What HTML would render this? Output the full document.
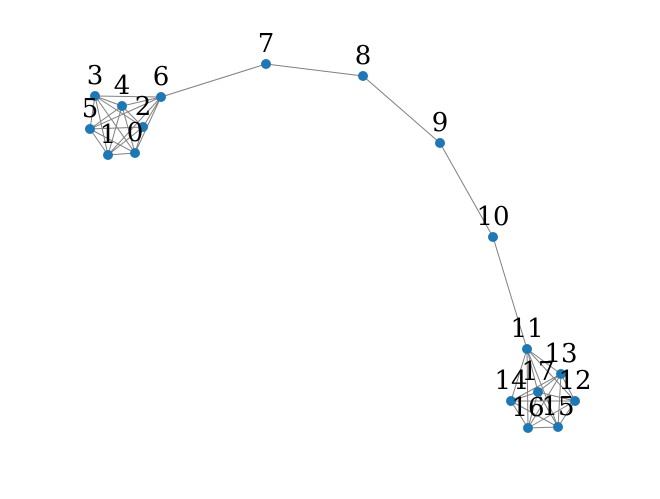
<!DOCTYPE html>
<html><head><meta charset="utf-8"><style>body{margin:0;background:#fff}svg{display:block}</style></head>
<body>
<svg id="g" width="660" height="499" viewBox="0 0 660 499" xmlns="http://www.w3.org/2000/svg">
<g id="edges"></g>
<g id="nodes"></g>
<g id="labels"></g>
</svg>
<script>
const nodeIds = [0,1,2,3,4,5,6,7,8,9,10,11,12,13,14,15,16,17];
const nodeX = [135,108,143,95,122,90,161,266,363,440,493,527,575,561,511,558,528,538];
const nodeY = [153,155,127,96,106,129,97,64,76,143,237,349,401,374,401,427,428,392];
const cliqueA = [0,1,2,3,4,5,6];
const cliqueB = [11,12,13,14,15,16,17];
const chainEdges = [[6,7],[7,8],[8,9],[9,10],[10,11]];
const NS='http://www.w3.org/2000/svg';
const edges=[];
[cliqueA,cliqueB].forEach(c=>{for(let i=0;i<c.length;i++)for(let j=i+1;j<c.length;j++)edges.push([c[i],c[j]]);});
chainEdges.forEach(e=>edges.push(e));
const eg=document.getElementById('edges'),ng=document.getElementById('nodes'),lg=document.getElementById('labels');
edges.forEach(([a,b])=>{
  const l=document.createElementNS(NS,'line');
  l.setAttribute('x1',nodeX[a]);l.setAttribute('y1',nodeY[a]);l.setAttribute('x2',nodeX[b]);l.setAttribute('y2',nodeY[b]);
  l.setAttribute('stroke','#808080');l.setAttribute('stroke-width','1');
  
  
  eg.appendChild(l);
});
nodeIds.forEach((id,i)=>{
  const c=document.createElementNS(NS,'circle');
  c.setAttribute('cx',nodeX[i]);c.setAttribute('cy',nodeY[i]);c.setAttribute('r','5');c.setAttribute('fill','#1f77b4');
  
  
  ng.appendChild(c);
  const t=document.createElementNS(NS,'text');
  t.setAttribute('x',nodeX[i]);t.setAttribute('y',nodeY[i]-12);
  t.setAttribute('text-anchor','middle');
  t.setAttribute('font-family','"DejaVu Serif","Liberation Serif",serif');
  t.setAttribute('font-size','26');t.setAttribute('fill','#000');
  t.textContent=String(id);
  
  
  lg.appendChild(t);
});
</script>
</body></html>
